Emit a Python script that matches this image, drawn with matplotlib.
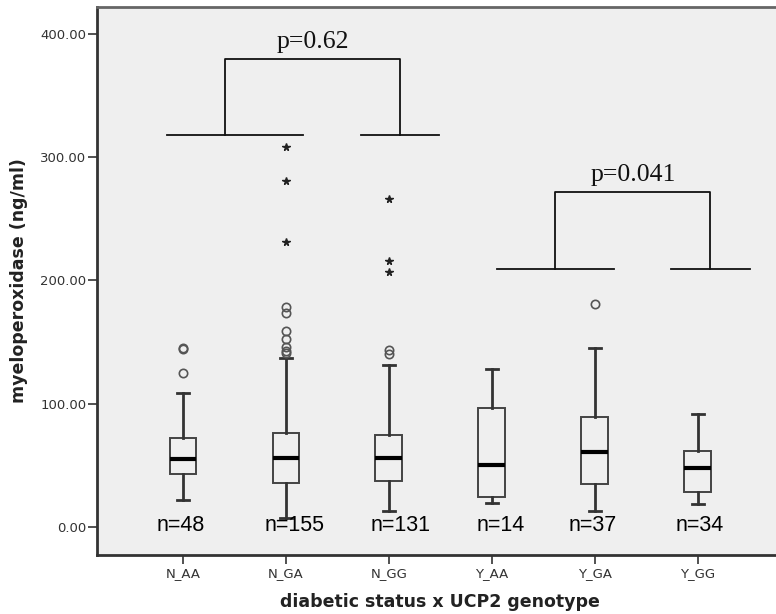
import numpy as np
import matplotlib
matplotlib.use("Agg")
import matplotlib.pyplot as plt

# groups and box statistics
groups = ["N_AA", "N_GA", "N_GG", "Y_AA", "Y_GA", "Y_GG"]
counts = [48, 155, 131, 14, 37, 34]
whis_lo = [21.6, 7.0, 12.7, 19.5, 13.2, 18.4]
q1 = [42.8, 35.5, 37.1, 24.1, 35.2, 28.7]
medians = [55.2, 56.0, 56.0, 50.6, 61.1, 47.6]
q3 = [72.5, 76.6, 74.9, 96.3, 89.0, 61.7]
whis_hi = [108.7, 137.0, 131.5, 128.2, 145.0, 91.7]

# outliers (circles) and extreme values (stars)
circles = {
    "N_AA": [144.4, 145.2, 125.3],
    "N_GA": [178.8, 173.9, 159.3, 152.3, 146.4, 143.1, 141.5],
    "N_GG": [143.7, 140.2],
    "Y_GA": [181.0],
}
stars = {
    "N_GA": [308.0, 280.3, 230.8],
    "N_GG": [266.2, 215.9, 207.2],
}

# significance brackets: (left x, right x, foot y, top y, left foot span, right foot span, label)
brackets = [
    (0.41, 2.107, 317.9, 379.9, (-0.158, 1.168), (1.728, 2.49), "p=0.62"),
    (3.618, 5.123, 209.7, 271.4, (3.046, 4.188), (4.738, 5.505), "p=0.041"),
]
# the n= labels are nudged sideways in the original
n_shift = [-0.02, 0.08, 0.11, 0.09, -0.02, 0.015]

bg = "#efefef"
fig = plt.figure(figsize=(7.76, 6.14), dpi=100)
ax = fig.add_axes([0.125, 0.096, 0.875, 0.893])
ax.set_facecolor(bg)

pos = np.arange(len(groups))
stats = []
for i, g in enumerate(groups):
    stats.append(dict(label=g, whislo=whis_lo[i], q1=q1[i], med=medians[i],
                      q3=q3[i], whishi=whis_hi[i], fliers=[]))
ax.bxp(stats, positions=pos, widths=0.26, capwidths=0.12, showfliers=False,
       patch_artist=True,
       boxprops=dict(facecolor=bg, edgecolor="#444444", linewidth=1.4),
       medianprops=dict(color="black", linewidth=3),
       whiskerprops=dict(color="#333333", linewidth=2),
       capprops=dict(color="#333333", linewidth=2))

for g, vals in circles.items():
    x = groups.index(g)
    ax.plot([x] * len(vals), vals, "o", mfc="none", mec="#555555",
            ms=6, mew=1.2, ls="none")
for g, vals in stars.items():
    x = groups.index(g)
    ax.plot([x] * len(vals), vals, "*", color="#222222", ms=5.5, ls="none")

for i, n in enumerate(counts):
    ax.text(pos[i] + n_shift[i], 1.5, f"n={n}", ha="center", va="center",
            fontsize=15.5, family="Liberation Sans", color="black")

for xl, xr, yf, yt, lspan, rspan, lab in brackets:
    kw = dict(color="#111111", lw=1.3)
    ax.plot([xl, xl, xr, xr], [yf, yt, yt, yf], **kw)
    ax.plot(lspan, [yf, yf], **kw)
    ax.plot(rspan, [yf, yf], **kw)
    ax.text((xl + xr) / 2, yt + 9, lab, ha="center", va="baseline",
            fontsize=18.5, family="Liberation Serif", color="#111111")

ax.set_xlim(-0.835, 5.76)
ax.set_ylim(-22.7, 422)
ax.set_xticks(pos)
ax.set_xticklabels(groups)
ax.set_yticks([0, 100, 200, 300, 400])
ax.set_yticklabels([f"{v:.2f}" for v in [0, 100, 200, 300, 400]])
ax.tick_params(axis="both", labelsize=9.5, labelcolor="#333333", color="#333333",
               length=6.5, width=1.2)
ax.tick_params(axis="y", pad=1)
ax.tick_params(axis="x", pad=2)

for side in ["left", "bottom"]:
    ax.spines[side].set_linewidth(2)
    ax.spines[side].set_color("#333333")
ax.spines["top"].set_linewidth(2)
ax.spines["top"].set_color("#666666")
ax.spines["right"].set_visible(False)

ax.set_ylabel("myeloperoxidase (ng/ml)", fontsize=12.5, fontweight="bold",
              color="#222222")
ax.yaxis.set_label_coords(-0.1016, 0.5)
ax.set_xlabel("diabetic status x UCP2 genotype", fontsize=12.5, fontweight="bold",
              color="#222222")
ax.xaxis.set_label_coords(0.505, -0.069)

fig.savefig("out.png", dpi=100)
